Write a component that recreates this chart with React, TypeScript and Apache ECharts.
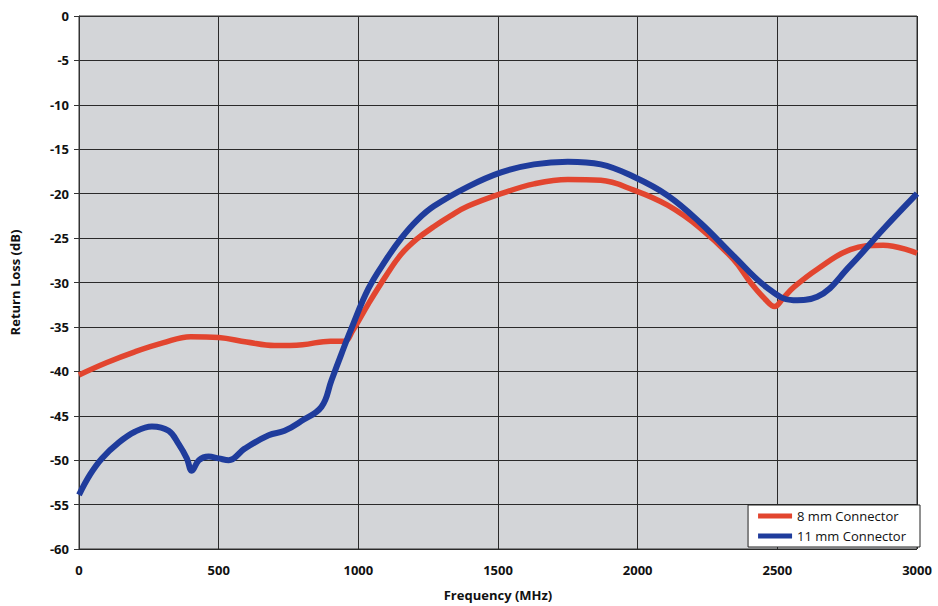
import React, { useEffect, useRef } from "react";
import * as echarts from "echarts";

const xTicks = [0, 500, 1000, 1500, 2000, 2500, 3000];
const yTicks = [0, -5, -10, -15, -20, -25, -30, -35, -40, -45, -50, -55, -60];

const freq8mm = [0, 100, 200, 300, 400, 500, 600, 700, 800, 900, 950, 980, 1036, 1100, 1154, 1210, 1271, 1330, 1393, 1511, 1629, 1750, 1868, 1986, 2107, 2225, 2343, 2404, 2460, 2490, 2520, 2560, 2643, 2761, 2879, 3000];
const loss8mm = [-40.4, -39.0, -37.8, -36.8, -36.1, -36.2, -36.7, -37.1, -37.0, -36.6, -36.6, -35.4, -32.4, -29.2, -26.8, -25.1, -23.7, -22.5, -21.4, -20.0, -18.9, -18.4, -18.5, -19.6, -21.3, -23.9, -27.4, -30.0, -32.0, -32.7, -31.8, -30.5, -28.5, -26.3, -25.8, -26.7];

const freq11mm = [0, 40, 82, 143, 200, 261, 321, 357, 386, 404, 429, 464, 500, 536, 593, 679, 736, 796, 868, 904, 940, 975, 1036, 1100, 1154, 1210, 1271, 1393, 1511, 1629, 1750, 1868, 1986, 2107, 2225, 2343, 2464, 2557, 2643, 2761, 2879, 3000];
const loss11mm = [-53.9, -51.6, -49.8, -48.0, -46.8, -46.2, -46.7, -48.2, -49.8, -51.2, -50.0, -49.6, -49.8, -50.0, -48.7, -47.2, -46.7, -45.6, -44.0, -41.0, -38.0, -35.2, -30.7, -27.4, -25.0, -23.0, -21.4, -19.2, -17.6, -16.7, -16.4, -16.7, -18.1, -20.2, -23.3, -27.0, -30.6, -32.0, -31.6, -28.1, -24.0, -20.0];

const seriesNames = ["8 mm Connector", "11 mm Connector"];

export default function App() {
  const ref = useRef<HTMLDivElement>(null);
  useEffect(() => {
    if (!ref.current) return;
    const chart = echarts.init(ref.current, undefined, { renderer: "svg" });
    const font = "'Open Sans', 'DejaVu Sans', sans-serif";
    chart.setOption({
      animation: false,
      backgroundColor: "#ffffff",
      grid: {
        left: 77,
        right: 21,
        top: 16,
        bottom: 55,
        show: true,
        backgroundColor: "#d3d5d8",
        borderColor: "#333",
        borderWidth: 1,
      },
      legend: {
        data: seriesNames,
        orient: "vertical",
        right: 18,
        bottom: 59,
        backgroundColor: "#ffffff",
        borderColor: "#222",
        borderWidth: 1,
        padding: [4, 14, 4, 10],
        itemGap: 6,
        itemWidth: 34,
        itemHeight: 5,
        icon: "rect",
        textStyle: { fontFamily: font, fontSize: 13, lineHeight: 14, color: "#111" },
      },
      xAxis: {
        type: "value",
        min: 0,
        max: 3000,
        interval: 500,
        name: "Frequency (MHz)",
        nameLocation: "middle",
        nameGap: 39,
        nameTextStyle: { fontFamily: font, fontSize: 13, fontWeight: "bold", color: "#111" },
        axisLine: { show: true, lineStyle: { color: "#333" } },
        axisTick: { show: false },
        axisLabel: {
          margin: 14,
          fontFamily: font,
          fontSize: 13,
          fontWeight: "bold",
          color: "#111",
          formatter: (v: number) => (xTicks.includes(v) ? String(v) : ""),
        },
        splitLine: { show: true, lineStyle: { color: "#2a2a2a", width: 1 } },
      },
      yAxis: {
        type: "value",
        min: -60,
        max: 0,
        interval: 5,
        name: "Return Loss (dB)",
        nameLocation: "middle",
        nameGap: 58,
        nameTextStyle: { fontFamily: font, fontSize: 13, fontWeight: "bold", color: "#111" },
        axisLine: { show: true, lineStyle: { color: "#333" } },
        axisTick: { show: true, length: 5, lineStyle: { color: "#333" } },
        axisLabel: {
          margin: 10,
          fontFamily: font,
          fontSize: 13,
          fontWeight: "bold",
          color: "#111",
          formatter: (v: number) => (yTicks.includes(v) ? String(v) : ""),
        },
        splitLine: { show: true, lineStyle: { color: "#2a2a2a", width: 1 } },
      },
      series: [
        {
          name: seriesNames[0],
          type: "line",
          data: freq8mm.map((f, i) => [f, loss8mm[i]]),
          smooth: 0.4,
          showSymbol: false,
          lineStyle: { color: "#e2452f", width: 5.5 },
          itemStyle: { color: "#e2452f" },
          z: 2,
        },
        {
          name: seriesNames[1],
          type: "line",
          data: freq11mm.map((f, i) => [f, loss11mm[i]]),
          smooth: 0.4,
          showSymbol: false,
          lineStyle: { color: "#1f3c9c", width: 6 },
          itemStyle: { color: "#1f3c9c" },
          z: 3,
        },
      ],
    });
    return () => chart.dispose();
  }, []);
  return <div ref={ref} style={{ width: 938, height: 606, position: "absolute", left: 0, top: 0 }} />;
}
